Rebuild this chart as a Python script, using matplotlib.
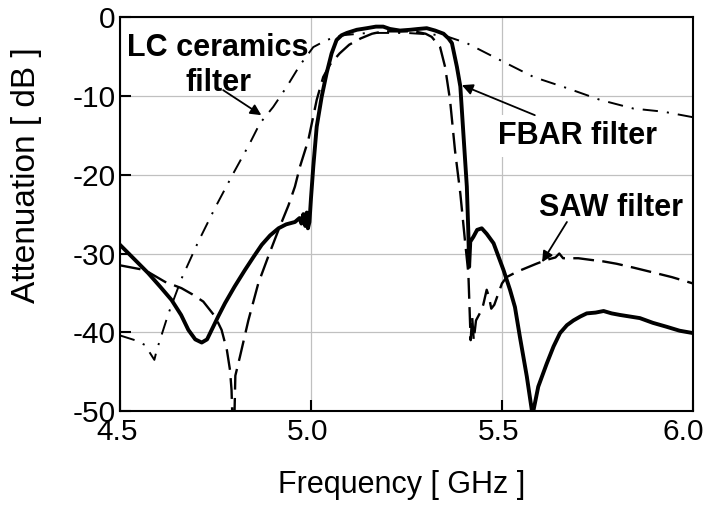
import matplotlib
matplotlib.use("Agg")
import matplotlib.pyplot as plt
from matplotlib.transforms import ScaledTranslation

plt.rcParams['font.family'] = ['Liberation Sans', 'DejaVu Sans']
plt.rcParams['axes.unicode_minus'] = False
plt.rcParams['lines.scale_dashes'] = False

# FBAR filter response (solid)
fbar_f = [4.500, 4.535, 4.574, 4.605, 4.635, 4.660, 4.679, 4.697, 4.714, 4.728,
          4.740, 4.757, 4.775, 4.800, 4.827, 4.850, 4.871, 4.893, 4.915, 4.935,
          4.958, 4.970, 4.975, 4.980, 4.985, 4.989, 4.992, 4.996, 5.000, 5.006,
          5.015, 5.028, 5.041, 5.054, 5.067, 5.080, 5.094, 5.120, 5.146, 5.170,
          5.189, 5.207, 5.233, 5.260, 5.280, 5.303, 5.325, 5.347, 5.360, 5.369,
          5.382, 5.391, 5.399, 5.408, 5.412, 5.414, 5.417, 5.425, 5.435, 5.447,
          5.460, 5.478, 5.504, 5.521, 5.534, 5.547, 5.565, 5.580, 5.595, 5.617,
          5.635, 5.652, 5.670, 5.687, 5.705, 5.722, 5.745, 5.766, 5.787, 5.809,
          5.835, 5.861, 5.895, 5.931, 5.965, 6.000]
fbar_db = [-28.9, -30.6, -32.5, -34.2, -35.9, -37.8, -39.7, -40.9, -41.3, -40.9,
           -39.7, -38.0, -36.3, -34.2, -32.1, -30.4, -28.9, -27.7, -26.8, -26.3,
           -26.0, -25.5, -26.2, -25.0, -26.5, -24.8, -26.8, -26.0, -23.0, -19.0,
           -13.9, -10.1, -7.1, -4.6, -2.9, -2.3, -2.0, -1.6, -1.4, -1.2,
           -1.2, -1.5, -1.7, -1.6, -1.5, -1.4, -1.7, -2.1, -2.7, -3.3,
           -6.3, -8.8, -14.8, -21.5, -27.4, -31.7, -28.5, -27.9, -27.0, -26.8,
           -27.5, -28.7, -32.1, -34.6, -36.8, -40.6, -45.6, -50.5, -46.9, -44.0,
           -41.8, -40.1, -39.1, -38.5, -38.0, -37.6, -37.5, -37.3, -37.6, -37.8,
           -38.0, -38.2, -38.8, -39.3, -39.8, -40.1]

# SAW filter response (dashed)
saw_f = [4.500, 4.565, 4.618, 4.661, 4.690, 4.718, 4.749, 4.766, 4.780, 4.788,
         4.792, 4.795, 4.799, 4.802, 4.814, 4.836, 4.862, 4.888, 4.915, 4.941,
         4.958, 4.971, 4.993, 5.015, 5.032, 5.050, 5.075, 5.100, 5.130, 5.160,
         5.190, 5.230, 5.270, 5.300, 5.316, 5.338, 5.351, 5.364, 5.377, 5.391,
         5.403, 5.412, 5.418, 5.422, 5.426, 5.432, 5.443, 5.451, 5.460, 5.466,
         5.472, 5.480, 5.491, 5.500, 5.512, 5.540, 5.565, 5.590, 5.617, 5.640,
         5.650, 5.660, 5.700, 5.731, 5.765, 5.800, 5.845, 5.887, 5.945, 6.000]
saw_db = [-31.5, -32.1, -33.6, -34.4, -35.2, -36.1, -38.0, -39.7, -42.3, -44.8,
          -47.3, -52.0, -52.0, -45.5, -43.1, -38.5, -33.8, -30.4, -27.0, -23.9,
          -21.5, -19.0, -15.6, -10.5, -7.6, -6.0, -4.6, -3.5, -2.7, -2.1,
          -1.8, -1.8, -1.8, -2.1, -2.5, -3.8, -6.3, -10.5, -16.9, -22.4,
          -28.3, -32.5, -41.0, -38.0, -41.0, -38.5, -37.5, -36.5, -34.6, -35.5,
          -37.0, -36.5, -35.0, -33.8, -33.0, -32.3, -31.8, -31.3, -30.8, -30.5,
          -30.0, -30.6, -30.6, -30.8, -31.0, -31.3, -31.8, -32.3, -33.0, -33.8]

# LC ceramics filter response (dash-dot)
lc_f = [4.500, 4.539, 4.565, 4.590, 4.596, 4.627, 4.661, 4.705, 4.750, 4.797,
        4.840, 4.866, 4.901, 4.937, 4.971, 5.006, 5.041, 5.080, 5.150, 5.250,
        5.347, 5.408, 5.497, 5.583, 5.670, 5.757, 5.844, 5.923, 6.000]
lc_db = [-40.4, -41.0, -41.6, -43.5, -42.3, -37.6, -33.2, -28.5, -24.1, -19.8,
         -16.0, -13.5, -11.4, -8.8, -6.1, -3.8, -2.9, -2.3, -2.0, -2.0,
         -2.3, -3.3, -5.5, -7.6, -9.0, -10.5, -11.6, -12.0, -12.7]

x_ticks = [4.5, 5.0, 5.5, 6.0]
y_ticks = [0, -10, -20, -30, -40, -50]

fig = plt.figure(figsize=(7.1, 5.05), dpi=100)
ax = fig.add_axes([0.169, 0.186, 0.807, 0.780])

ax.plot(lc_f, lc_db, color='black', lw=1.4, ls=(0, (11, 6.5, 1.5, 6.5)))
ax.plot(saw_f, saw_db, color='black', lw=1.7, ls=(0, (15, 6)))
ax.plot(fbar_f, fbar_db, color='black', lw=2.8, solid_joinstyle='round')

ax.set_xlim(4.5, 6.0)
ax.set_ylim(-50, 0)
ax.set_xticks(x_ticks)
ax.set_xticklabels(['%.1f' % v for v in x_ticks])
ax.set_yticks(y_ticks)
ax.set_yticklabels([str(v) for v in y_ticks])
ax.grid(True, color='#c0c0c0', lw=0.9)
ax.set_axisbelow(True)

for s in ax.spines.values():
    s.set_linewidth(1.5)
ax.tick_params(direction='in', length=8, width=1.5, labelsize=21.5)
ax.tick_params(axis='x', pad=5)
ax.tick_params(axis='y', pad=3)

# nudge the x labels a bit left, the last one more so it stays on the page
xlabels = ax.get_xticklabels()
for lab in xlabels[:-1]:
    lab.set_transform(lab.get_transform() + ScaledTranslation(-3 / 100, 0, fig.dpi_scale_trans))
xlabels[-1].set_transform(xlabels[-1].get_transform() + ScaledTranslation(-10 / 100, 0, fig.dpi_scale_trans))

ax.set_xlabel('Frequency [ GHz ]', fontsize=22)
ax.set_ylabel('Attenuation [ dB ]', fontsize=24)
ax.xaxis.set_label_coords(0.492, -0.15)
ax.yaxis.set_label_coords(-0.136, 0.599)

bold = dict(fontsize=22, fontweight='bold', ha='center', va='center')
ax.text(4.757, -6.1, 'LC ceramics\nfilter', multialignment='center', **bold)
ax.text(5.699, -15.1, 'FBAR filter',
        bbox=dict(boxstyle='square,pad=0.2', fc='white', ec='none'), **bold)
ax.text(5.785, -24.2, 'SAW filter', **bold)

arrow = dict(arrowstyle='-|>', color='black', lw=1.3, mutation_scale=16,
             shrinkA=0, shrinkB=0)
ax.annotate('', xy=(4.870, -12.44), xytext=(4.770, -9.26), arrowprops=arrow)
ax.annotate('', xy=(5.395, -8.63), xytext=(5.586, -12.44), arrowprops=arrow)
ax.annotate('', xy=(5.605, -31.1), xytext=(5.670, -26.0), arrowprops=arrow)

fig.savefig('out.png', dpi=100)
